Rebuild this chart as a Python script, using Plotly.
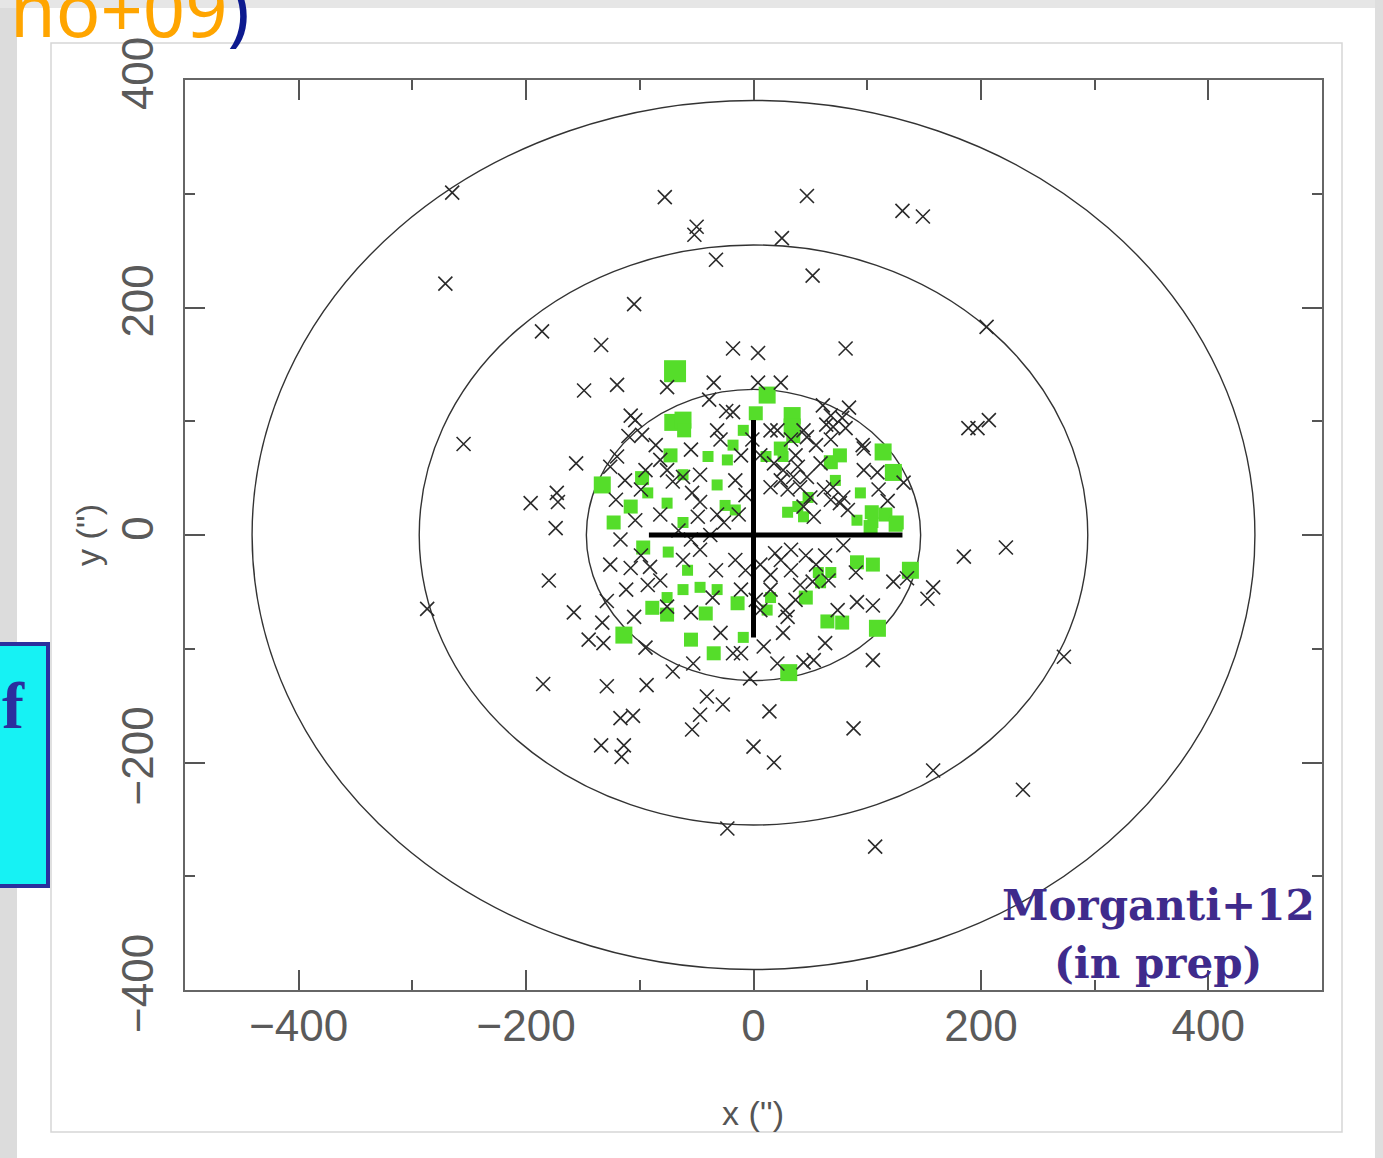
import plotly.graph_objects as go

# ---------------- data (arcsec) ----------------
pn_x = [-265, -271, -255, -287, -186, -105, -78, -50, -52, -33, 25, 47, 52, 131, 149, 81, -18, 4,
        -134, -149, -120, -156, -196, -173, -172, -174, -180, -158, -145, -132, -129, -185, -129, -94,
        -117, -106, -134, -114, -116, -54, -47, -41, -27, 0, 18, 14, -23, 88, 105, 107, 158, 237, 273,
        185, 222, 153, 158, 205, 189, 197, 207,
        -76, -35, -39, -24, -108, -104, -98, -110, -32, -120, -126, -76, -71, -55, -62, -54, -47, -49,
        -32, -26, -29,
        4, 24, -18, 61, 84, 68, 78, 70, 81, 64, 15, 21, 44, 47, 96, 97, 97, 109, 132, 59,
        18, 26, 39, 24, 35, 47, 15, 30, 41, 50, 62, 70, 79, 68, 76, 83, 44, 53, -11, -16, -7, -13,
        -133, -105, -95, -71, -53, -29, -18, -108, -93, -91, -76, -55, -36, -62, -47, -33,
        79, 90, 123, 135, 66, 52, 74, 91, 105, 28, 30, 26, 63, 9, -11, 21, 44, 53, -3,
        -16, -7, 6, 15, 24, 33, 41, 15, 2, -11, 37, 6, 19, 33, 46, 55, 63,
        -86, -82, -95, -113, -99, -121, -104, -82, -66, -55, -38, -117, -99, -126, -82, -112, -47,
        6, -1, 33, 37, 55, 68, 118, 110]
pn_y = [301, 221, 80, -65, 179, 203, 297, 271, 264, 242, 261, 298, 228, 285, 280, 164, 164, 160,
        167, 127, 132, 63, 28, 37, 29, 6, -40, -68, -92, -95, -58, -131, -133, -132,
        -161, -159, -185, -185, -195, -171, -158, -142, -149, -186, -200, -155, -258, -170, -110, -274, -207, -224, -107,
        -19, -11, -56, -46, 183, 94, 94, 101,
        130, 134, 119, 109, 105, 101, 88, 87, 92, 69, 60, 57, 47, 75, 51, 37, 29, 16,
        18, 11, 84,
        134, 134, 108, 114, 112, 105, 103, 95, 94, 97, 92, 92, 92, 86, 79, 76, 57, 55, 46, 63,
        63, 57, 60, 48, 51, 51, 42, 40, 42, 33, 40, 42, 33, 31, 28, 22, 25, 16, 70, 48, 35, 18,
        -77, -72, -99, -120, -113, -86, -104, -29, -44, -28, -63, -68, -55, -22, -13, -31,
        -9, -33, -41, -38, -40, -41, -66, -59, -62, -66, -72, -86, -95, -98, -104, -113, -112, -110, -126,
        -22, -31, -26, -35, -22, -31, -44, -48, -57, -48, -57, -66, -16, -13, -18, -26, -18,
        79, 66, 57, 48, 40, 31, 13, 18, 4, -4, 0, -4, -18, -26, -40, -48, 53,
        70, 84, 84, 70, 79, 84, 30, 40]

hi_x = [-69, -71, -62, -61, -133, -98, -93, -76, -108, -123, -73, -62, -40, -23, -18, -32, -25, -62,
        12, 2, 34, 34, 35, -9, 114, 123, 68, 76, 72, 94, 104, 116, 126, 91, 105, 24, 26, 11, 48, 39, 44, -16, 30,
        -114, -97, -75, -58, -47, -89, -76, -76, -62, -55, -35, -42, -32,
        103, 125, 91, 105, 138, 68, 57, 59, 46, 65, 78, 109, 31, -9, -14, 12, 15]
hi_y = [144, 99, 101, 92, 44, 50, 37, 28, 25, 11, 70, 53, 69, 66, 79, 44, 26, 11,
        123, 107, 105, 95, 87, 92, 73, 55, 64, 70, 48, 37, 20, 18, 11, 13, 11, 76, 69, 69, 33, 25, 16, 22, 20,
        -88, -11, -15, -31, -46, -64, -70, -55, -48, -92, -104, -69, -48,
        7, 9, -24, -26, -31, -33, -33, -42, -55, -76, -77, -82, -121, -90, -60, -66, -55]
hi_level = [4, 3, 3, 2, 3, 2, 1, 1, 2, 2, 2, 1, 1, 1, 1, 1, 1, 1,
            3, 2, 3, 3, 2, 1, 3, 3, 2, 2, 1, 1, 2, 2, 2, 1, 1, 2, 1, 1, 1, 1, 1, 1, 1,
            3, 2, 1, 1, 1, 2, 2, 1, 1, 2, 2, 2, 1,
            2, 2, 2, 2, 3, 1, 1, 1, 2, 2, 2, 3, 3, 1, 2, 1, 1]

ring_rx = [147, 294, 441]
ring_ry = [128, 255, 382]

cross_hx = [-92, 131]
cross_vy = [-90, 101]

# ---------------- layout helpers ----------------
W, H = 1383, 1158
L, R, T, B = 185, 1322, 80, 990


def fx(p):
    return (p - L) / (R - L)


def fy(p):
    return (B - p) / (B - T)


level_size = {1: 11, 2: 14, 3: 17, 4: 22}

fig = go.Figure()

fig.add_trace(go.Scatter(
    x=hi_x, y=hi_y, mode="markers",
    marker=dict(symbol="square", size=[level_size[v] for v in hi_level],
                color="#55dd2a", opacity=1, line=dict(width=0)),
    showlegend=False, hoverinfo="skip"))

fig.add_trace(go.Scatter(
    x=pn_x, y=pn_y, mode="markers",
    marker=dict(symbol="x-thin", size=14, color="#2a2a2a", opacity=1,
                line=dict(width=1.6, color="#2a2a2a")),
    showlegend=False, hoverinfo="skip"))

fig.add_trace(go.Scatter(x=cross_hx, y=[0, 0], mode="lines",
                         line=dict(color="black", width=5), showlegend=False, hoverinfo="skip"))
fig.add_trace(go.Scatter(x=[0, 0], y=cross_vy, mode="lines",
                         line=dict(color="black", width=5), showlegend=False, hoverinfo="skip"))

shapes = []
# page background pieces
shapes.append(dict(type="rect", xref="paper", yref="paper", x0=fx(0), x1=fx(17), y0=fy(H), y1=fy(0),
                   fillcolor="#dcdcdc", line=dict(width=0), layer="below"))
shapes.append(dict(type="rect", xref="paper", yref="paper", x0=fx(0), x1=fx(W), y0=fy(8), y1=fy(0),
                   fillcolor="#e6e6e6", line=dict(width=0), layer="below"))
shapes.append(dict(type="rect", xref="paper", yref="paper", x0=fx(1375), x1=fx(W), y0=fy(H), y1=fy(0),
                   fillcolor="#dedede", line=dict(width=0), layer="below"))
shapes.append(dict(type="rect", xref="paper", yref="paper", x0=fx(51), x1=fx(1342), y0=fy(1132), y1=fy(43),
                   fillcolor="rgba(0,0,0,0)", line=dict(width=1.5, color="#d6d6d6"), layer="below"))
# cyan box at left
shapes.append(dict(type="rect", xref="paper", yref="paper", x0=fx(-10), x1=fx(48), y0=fy(886), y1=fy(644),
                   fillcolor="#16f2f4", line=dict(width=4, color="#2b2f9e"), layer="above"))
# ellipses
for rx, ry in zip(ring_rx, ring_ry):
    shapes.append(dict(type="circle", xref="x", yref="y", x0=-rx, x1=rx, y0=-ry, y1=ry,
                       line=dict(color="#333333", width=1.4), layer="below"))

annotations = [
    dict(xref="paper", yref="paper", x=fx(252), y=fy(8), xanchor="right", yanchor="middle",
         text='<span style="color:#ffa500">no+09</span><span style="color:#0d1a8f">)</span>',
         showarrow=False, font=dict(family="Noto Sans", size=74)),
    dict(xref="paper", yref="paper", x=fx(0), y=fy(705), xanchor="left", yanchor="middle",
         text="<b>f</b>", showarrow=False, font=dict(family="Liberation Serif", size=66, color="#2b2f9e")),
    dict(xref="paper", yref="paper", x=fx(1158), y=fy(905), xanchor="center", yanchor="middle",
         text="<b>Morganti+12</b>", showarrow=False,
         font=dict(family="DejaVu Serif", size=42, color="#3f2b8c")),
    dict(xref="paper", yref="paper", x=fx(1158), y=fy(963), xanchor="center", yanchor="middle",
         text="<b>(in prep)</b>", showarrow=False,
         font=dict(family="DejaVu Serif", size=42, color="#3f2b8c")),
    dict(xref="paper", yref="paper", x=fx(753), y=fy(1113), xanchor="center", yanchor="middle",
         text="x ('')", showarrow=False,
         font=dict(family="Liberation Sans", size=34, color="#555555")),
    dict(xref="paper", yref="paper", x=fx(88), y=fy(535), xanchor="center", yanchor="middle",
         text="y ('')", textangle=-90, showarrow=False,
         font=dict(family="Liberation Sans", size=34, color="#555555")),
]

axis_common = dict(
    showgrid=False, zeroline=False, showline=True, linecolor="#666666", linewidth=2,
    mirror="allticks", ticks="inside", ticklen=20, tickwidth=2, tickcolor="#555555",
    dtick=200, tick0=0,
    tickfont=dict(family="Liberation Sans", size=44, color="#5a5a5a"),
    minor=dict(dtick=100, tick0=0, ticks="inside", ticklen=10, tickwidth=2, tickcolor="#555555"),
)

fig.update_layout(
    width=W, height=H, autosize=False,
    margin=dict(l=L, r=W - R, t=T, b=H - B),
    paper_bgcolor="white", plot_bgcolor="white",
    xaxis=dict(range=[-500, 500], ticklabelstandoff=-4, **axis_common),
    yaxis=dict(range=[-400, 400], tickangle=-90, ticklabelstandoff=12, **axis_common),
    shapes=shapes, annotations=annotations,
)

fig.write_html("out.html")
